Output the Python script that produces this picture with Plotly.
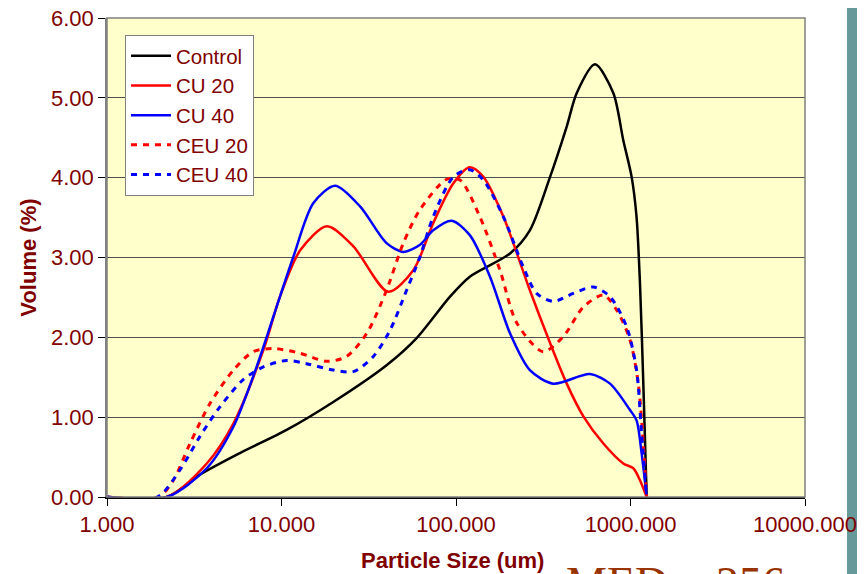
import plotly.graph_objects as go

# ---------------- data ----------------
control_x = [1.0, 2.2, 3.41, 5.78, 10.7, 19.8, 40, 59.5, 92.4, 120, 204, 265, 346, 431, 492, 626, 797, 909, 1015, 1083, 1133, 1184, 1238]
control_y = [0, 0, 0.28, 0.55, 0.84, 1.19, 1.65, 1.99, 2.51, 2.76, 3.05, 3.34, 4.01, 4.64, 5.06, 5.42, 5.06, 4.47, 4.01, 3.51, 2.68, 1.43, 0]

cu20_x = [1.0, 2.2, 3.73, 5.3, 7.87, 9.8, 12.8, 18.2, 25.8, 40.9, 56.9, 74, 96.6, 120, 143.5, 187, 265, 346, 431, 537, 699, 909, 1038, 1133, 1238]
cu20_y = [0, 0, 0.42, 0.92, 1.84, 2.51, 3.09, 3.39, 3.14, 2.57, 2.84, 3.43, 3.93, 4.13, 4.01, 3.51, 2.59, 1.93, 1.42, 1.01, 0.67, 0.42, 0.36, 0.21, 0]

cu40_x = [1.0, 2.2, 3.73, 5.3, 7.2, 9.8, 11.7, 15.2, 20.3, 28.2, 40, 49.9, 62.2, 74, 94.5, 120, 156.6, 204, 265, 361, 586, 763, 993, 1083, 1158, 1238]
cu40_y = [0, 0, 0.36, 0.88, 1.63, 2.51, 3.01, 3.68, 3.90, 3.64, 3.18, 3.07, 3.16, 3.34, 3.46, 3.28, 2.76, 2.05, 1.59, 1.42, 1.54, 1.42, 1.09, 0.96, 0.55, 0]

ceu20_x = [1.0, 1.97, 2.4, 2.99, 3.89, 5.3, 6.89, 8.97, 12.8, 18.2, 23.6, 30.8, 40, 49.9, 62.2, 88.4, 105.5, 137, 178.7, 223, 316, 412, 537, 699, 834, 993, 1108, 1184, 1238]
ceu20_y = [0, 0, 0.21, 0.67, 1.17, 1.59, 1.82, 1.86, 1.80, 1.70, 1.76, 2.05, 2.59, 3.18, 3.60, 3.98, 3.97, 3.51, 2.84, 2.18, 1.82, 2.01, 2.38, 2.53, 2.34, 1.97, 1.42, 0.67, 0]

ceu40_x = [1.0, 1.94, 2.62, 3.41, 4.44, 6.04, 7.87, 10.7, 13.9, 19.8, 25.8, 33.6, 41.9, 52.1, 62.2, 74, 96.6, 120, 143.5, 187, 243, 290, 361, 470, 612, 763, 951, 1083, 1158, 1238]
ceu40_y = [0, 0, 0.34, 0.76, 1.13, 1.47, 1.63, 1.71, 1.67, 1.59, 1.57, 1.76, 2.09, 2.59, 3.01, 3.51, 4.01, 4.10, 3.97, 3.51, 2.88, 2.55, 2.45, 2.55, 2.63, 2.51, 2.13, 1.59, 0.79, 0]

x_tickvals = [1, 10, 100, 1000, 10000]
x_ticktext = ["1.000", "10.000", "100.000", "1000.000", "10000.000"]
y_tickvals = [0, 1, 2, 3, 4, 5, 6]
y_ticktext = ["0.00", "1.00", "2.00", "3.00", "4.00", "5.00", "6.00"]

series = [
    ("Control", control_x, control_y, "#000000", "solid"),
    ("CU 20", cu20_x, cu20_y, "#FF0000", "solid"),
    ("CU 40", cu40_x, cu40_y, "#0000FF", "solid"),
    ("CEU 20", ceu20_x, ceu20_y, "#FF0000", "6px,6px"),
    ("CEU 40", ceu40_x, ceu40_y, "#0000FF", "6px,6px"),
]

DARKRED = "#800000"
FONT = "Liberation Sans, Arial, sans-serif"

fig = go.Figure()
for name, xs, ys, col, dash in series:
    fig.add_trace(go.Scatter(
        x=xs, y=ys, name=name, mode="lines",
        line=dict(color=col, width=2.5 if dash == "solid" else 3, dash=dash,
                  shape="spline", smoothing=0.8),
    ))

# the page body adds an 8px offset; margins compensate for it
fig.update_layout(
    width=866, height=574,
    margin=dict(l=99, r=69, t=10, b=85, autoexpand=False),
    paper_bgcolor="white",
    plot_bgcolor="#FFFFCC",
    font=dict(family=FONT, size=22, color=DARKRED),
    showlegend=True,
    legend=dict(
        x=0.0258, y=0.9645, xanchor="left", yanchor="top",
        bgcolor="white", bordercolor="#808080", borderwidth=1,
        font=dict(family=FONT, size=20.5, color=DARKRED),
        itemwidth=40, tracegroupgap=0,
    ),
    xaxis=dict(
        type="log", range=[0, 4], automargin=False,
        tickvals=x_tickvals, ticktext=x_ticktext,
        showgrid=False, zeroline=False,
        showline=True, linecolor="#000000", linewidth=1.5,
        ticks="outside", ticklen=7, tickcolor="#000000",
        ticklabeloverflow="allow",
        tickfont=dict(family=FONT, size=22, color=DARKRED),
    ),
    yaxis=dict(
        range=[0, 6], automargin=False,
        tickvals=y_tickvals, ticktext=y_ticktext,
        showgrid=True, gridcolor="#505050", gridwidth=1,
        zeroline=False,
        showline=True, linecolor="#808080", linewidth=1.5,
        ticks="outside", ticklen=7, tickcolor="#000000",
        ticklabeloverflow="allow",
        tickfont=dict(family=FONT, size=22, color=DARKRED),
    ),
    shapes=[
        dict(type="rect", xref="paper", yref="paper", x0=0, x1=1, y0=0, y1=1,
             line=dict(color="#808080", width=1.5), layer="above"),
        dict(type="rect", xref="paper", yref="paper", x0=1.0602, x1=1.0745,
             y0=-0.2, y1=1.05, fillcolor="#669999", line=dict(width=0), layer="below"),
    ],
    annotations=[
        dict(text="<b>Particle Size (um)</b>", xref="paper", yref="paper",
             x=0.4957, y=-0.1336, xanchor="center", yanchor="middle", showarrow=False,
             font=dict(family=FONT, size=22, color=DARKRED)),
        dict(text="<b>Volume (%)</b>", xref="paper", yref="paper",
             x=-0.113, y=0.5, xanchor="center", yanchor="middle", showarrow=False,
             textangle=-90, font=dict(family=FONT, size=22, color=DARKRED)),
        dict(text="MED ~ 256", xref="paper", yref="paper",
             x=0.655, y=-0.18, xanchor="left", yanchor="middle", showarrow=False,
             font=dict(family="Liberation Serif, Times New Roman, serif", size=46, color="#993300")),
    ],
)

fig.write_html("out.html")
